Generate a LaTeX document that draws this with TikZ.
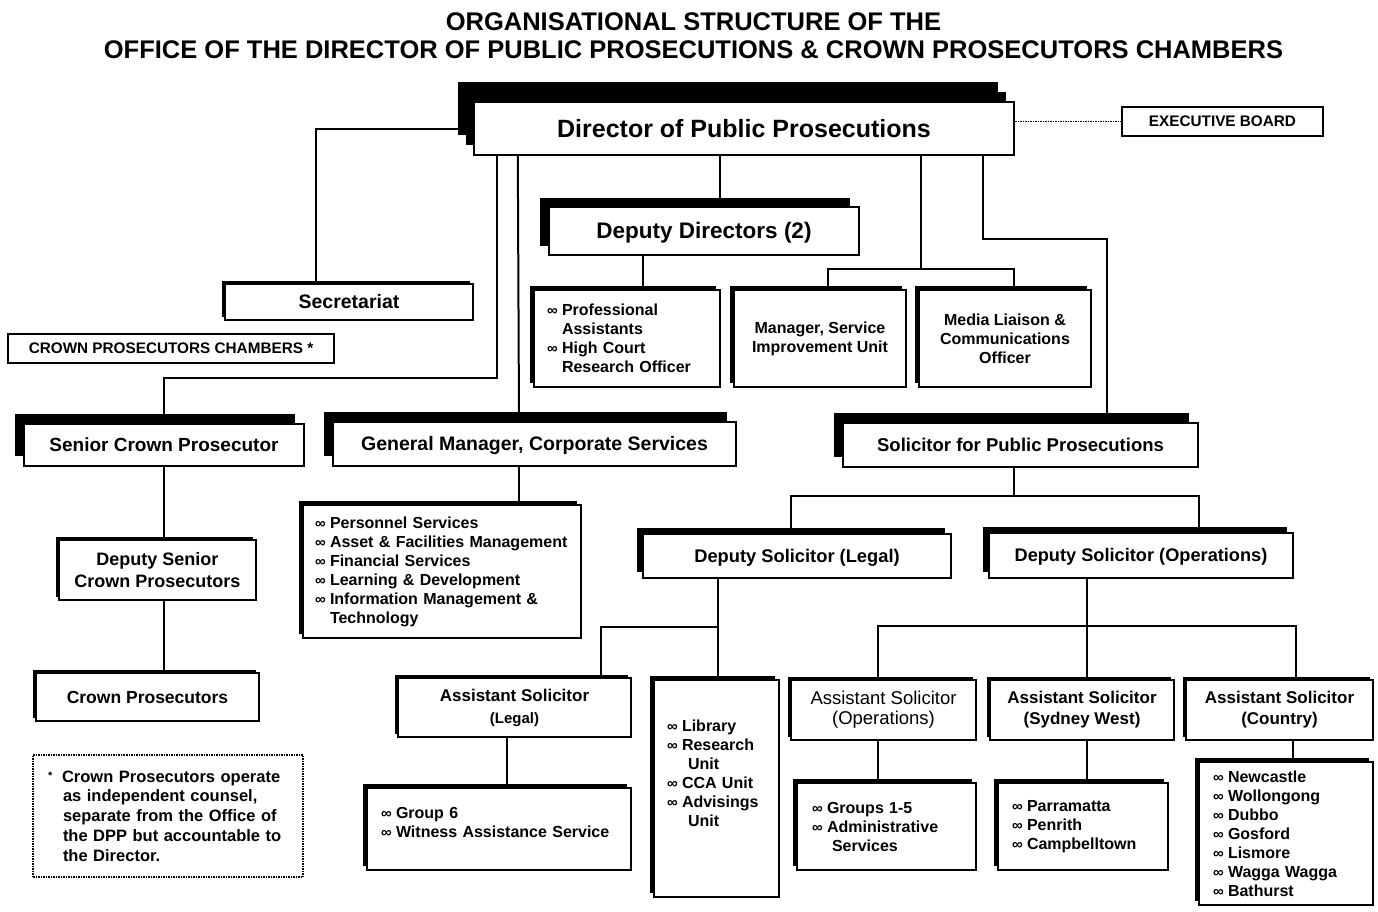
\documentclass[tikz,border=0pt]{standalone}
\usepackage{fontspec}
\setmainfont{Liberation Sans}
\usetikzlibrary{shadows}

\newcommand{\blt}[1]{\mbox{\makebox[15pt][l]{\fontsize{15}{15}\selectfont ∞}#1}}
\newcommand{\bltcont}[1]{\mbox{\hspace{15pt}#1}}

\begin{document}
\begin{tikzpicture}[x=1pt, y=-1pt,
    orgbox/.style={draw, line width=2.4pt, fill=white, inner sep=0pt, align=center},
    backshadow/.style 2 args={drop shadow={shadow xshift=-#1, shadow yshift=#2, fill=black, opacity=1}},
    oneline/.style={text height=#1, text depth=0.6pt},
    headtext/.style={font=\fontsize{18.5}{22}\selectfont\bfseries},
    smalltext/.style={font=\fontsize{16}{19}\selectfont\bfseries},
    listbox/.style={orgbox, smalltext, align=left, inner xsep=13pt},
    capsbox/.style={draw, line width=2pt, fill=white, inner sep=0pt, oneline=11pt, font=\fontsize{15.3}{18}\selectfont\bfseries},
    conn/.style={line width=2pt}]

    % Fix the size of the whole chart
    \useasboundingbox (0,0) rectangle (1378,911);

    % Title
    \node[font=\fontsize{25.5}{28}\selectfont\bfseries, align=center] (title) at (693.5,36)
        {ORGANISATIONAL STRUCTURE OF THE\\OFFICE OF THE DIRECTOR OF PUBLIC PROSECUTIONS \& CROWN PROSECUTORS CHAMBERS};

    % Top level
    \node[orgbox, backshadow={16pt}{20pt}, backshadow={8pt}{10pt}, minimum width=540pt, minimum height=53pt,
          oneline=18pt, font=\fontsize{25}{30}\selectfont\bfseries] (dpp) at (744,128.5) {Director of Public Prosecutions};
    \node[capsbox, minimum width=201pt, minimum height=29pt] (exec) at (1222.5,121.5) {EXECUTIVE BOARD};
    \node[orgbox, backshadow={9pt}{9pt}, minimum width=310pt, minimum height=48pt,
          oneline=16pt, font=\fontsize{22.5}{26}\selectfont\bfseries] (dd) at (704,231) {Deputy Directors (2)};
    \node[orgbox, backshadow={3pt}{3pt}, oneline=14pt, font=\fontsize{19.5}{22}\selectfont\bfseries,
          minimum width=248pt, minimum height=36pt] (secr) at (349,302) {Secretariat};
    \node[capsbox, minimum width=326pt, minimum height=29pt] (cpc) at (171,348.5) {CROWN PROSECUTORS CHAMBERS *};

    % Units under the Deputy Directors and the Director
    \node[listbox, backshadow={4pt}{4pt}, text width=160pt, minimum width=186pt, minimum height=97pt] (prof) at (627,338.5)
        {\blt{Professional}\\ \bltcont{Assistants}\\ \blt{High Court}\\ \bltcont{Research Officer}};
    \node[orgbox, smalltext, backshadow={4pt}{4pt}, minimum width=172pt, minimum height=97pt] (msi) at (820,338.5)
        {Manager, Service\\Improvement Unit};
    \node[orgbox, smalltext, backshadow={4pt}{4pt}, minimum width=172pt, minimum height=97pt] (media) at (1005,338.5)
        {Media Liaison \&\\Communications\\Officer};

    % Second row
    \node[orgbox, backshadow={9pt}{10pt}, oneline=13.6pt, font=\fontsize{19}{22}\selectfont\bfseries,
          minimum width=280pt, minimum height=42pt] (scp) at (164,445) {Senior Crown Prosecutor};
    \node[orgbox, backshadow={9pt}{10pt}, oneline=14pt, font=\fontsize{19.5}{22}\selectfont\bfseries,
          minimum width=403pt, minimum height=44pt] (gm) at (534.5,444) {General Manager, Corporate Services};
    \node[orgbox, headtext, backshadow={9pt}{10pt}, oneline=13.3pt, minimum width=355pt, minimum height=44pt] (spp) at (1020.5,445)
        {Solicitor for Public Prosecutions};

    % Crown Prosecutors chambers
    \node[orgbox, backshadow={3pt}{3pt}, font=\fontsize{18}{22}\selectfont\bfseries,
          minimum width=197pt, minimum height=60pt] (dscp) at (157.5,570) {Deputy Senior\\Crown Prosecutors};
    \node[orgbox, backshadow={3pt}{3pt}, oneline=12.6pt, font=\fontsize{17.5}{22}\selectfont\bfseries,
          minimum width=223pt, minimum height=48pt] (cp) at (147.5,697) {Crown Prosecutors};
    \node[draw, densely dotted, line width=1.5pt, fill=white, inner xsep=15pt, inner ysep=0pt, align=left,
          text width=240pt, minimum width=270pt, minimum height=122pt,
          font=\fontsize{16.5}{19.7}\selectfont\bfseries] (note) at (168,816)
        {\mbox{\makebox[14pt][l]{\raisebox{3pt}{\fontsize{11}{11}\selectfont *}}Crown Prosecutors operate}\\
         \bltcont{as independent counsel,}\\ \bltcont{separate from the Office of}\\
         \bltcont{the DPP but accountable to}\\ \bltcont{the Director.}};

    % Corporate services
    \node[listbox, backshadow={4pt}{4pt}, inner xsep=12pt, text width=254pt, minimum width=278pt, minimum height=133pt]
        (corp) at (442,571.5)
        {\blt{Personnel Services}\\ \blt{Asset \& Facilities Management}\\ \blt{Financial Services}\\
         \blt{Learning \& Development}\\ \blt{Information Management \&}\\ \bltcont{Technology}};

    % Solicitor's office
    \node[orgbox, backshadow={6pt}{6pt}, oneline=13.2pt, font=\fontsize{18.3}{22}\selectfont\bfseries,
          minimum width=308pt, minimum height=44pt] (dsl) at (797,556) {Deputy Solicitor (Legal)};
    \node[orgbox, backshadow={6pt}{6pt}, oneline=13.2pt, font=\fontsize{18.2}{22}\selectfont\bfseries,
          minimum width=304pt, minimum height=45pt] (dso) at (1141,555.5) {Deputy Solicitor (Operations)};

    \node[orgbox, backshadow={3pt}{3pt}, font=\fontsize{17}{22}\selectfont\bfseries,
          minimum width=233pt, minimum height=59pt] (asl) at (514.5,707.5)
        {Assistant Solicitor\\{\fontsize{15}{18}\selectfont (Legal)}};
    \node[listbox, backshadow={4pt}{4pt}, text width=99pt, minimum width=125pt, minimum height=217pt] (lib) at (716.5,788.5)
        {\blt{Library}\\ \blt{Research}\\ \bltcont{\hspace{6pt}Unit}\\ \blt{CCA Unit}\\ \blt{Advisings}\\
         \bltcont{\hspace{6pt}Unit}\\[12pt]\mbox{}};
    \node[orgbox, backshadow={3pt}{3pt}, font=\fontsize{18.5}{20}\selectfont,
          minimum width=185pt, minimum height=60pt] (asop) at (883.5,710) {Assistant Solicitor\\(Operations)};
    \node[orgbox, backshadow={3pt}{3pt}, font=\fontsize{17}{21}\selectfont\bfseries,
          minimum width=184pt, minimum height=60pt] (asw) at (1082,710) {Assistant Solicitor\\(Sydney West)};
    \node[orgbox, backshadow={3pt}{3pt}, font=\fontsize{17}{21}\selectfont\bfseries,
          minimum width=187pt, minimum height=60pt] (asc) at (1279.5,710) {Assistant Solicitor\\(Country)};

    % Bottom row of units
    \node[listbox, backshadow={4pt}{4pt}, inner xsep=14pt, text width=236pt, minimum width=264pt, minimum height=82pt]
        (grp6) at (499,829) {\blt{Group 6}\\ \blt{Witness Assistance Service}\\[-6pt]\mbox{}};
    \node[listbox, backshadow={4pt}{4pt}, inner xsep=15pt, text width=149pt, minimum width=179pt, minimum height=87pt]
        (groups) at (886.5,826.5) {\blt{Groups 1-5}\\ \blt{Administrative}\\ \bltcont{\hspace{5pt}Services}};
    \node[listbox, backshadow={4pt}{4pt}, inner xsep=14pt, text width=142pt, minimum width=170pt, minimum height=87pt]
        (parr) at (1083,826.5) {\blt{Parramatta}\\ \blt{Penrith}\\ \blt{Campbelltown}};
    \node[listbox, backshadow={4pt}{4pt}, inner xsep=14pt, text width=146pt, minimum width=174pt, minimum height=143pt]
        (country) at (1286,833.5)
        {\blt{Newcastle}\\ \blt{Wollongong}\\ \blt{Dubbo}\\ \blt{Gosford}\\ \blt{Lismore}\\ \blt{Wagga Wagga}\\ \blt{Bathurst}};

    % Branch points of the connectors
    \coordinate (cfork) at (497,378);
    \coordinate (mfork) at (921,269);
    \coordinate (sfork) at (983,239);
    \coordinate (dfork) at (1014,496);
    \coordinate (lfork) at (718,627);
    \coordinate (ofork) at (1087,626);

    % Connectors
    \draw[densely dotted, line width=1.5pt] (exec.west -| dpp.east) -- (exec.west);
    \draw[conn] (dpp.west) -| ([xshift=-33pt]secr.north);
    \draw[conn] (dpp.south -| cfork) -- (cfork) -| (scp.north);
    \draw[conn] ([xshift=45pt]dpp.south west) -- ([xshift=-15.5pt]gm.north);
    \draw[conn] ([xshift=-24pt]dpp.south) -- ([xshift=16pt]dd.north);
    \draw[conn] (dpp.south -| mfork) -- (mfork);
    \draw[conn] ([xshift=8pt]msi.north) |- (mfork) -| ([xshift=9pt]media.north);
    \draw[conn] (dpp.south -| sfork) -- (sfork) -| ([xshift=86.5pt]spp.north);
    \draw[conn] ([xshift=-61pt]dd.south) -- ([xshift=16pt]prof.north);
    \draw[conn] (scp.south) -- ([xshift=6.5pt]dscp.north);
    \draw[conn] ([xshift=6.5pt]dscp.south) -- ([xshift=16.5pt]cp.north);
    \draw[conn] ([xshift=-15.5pt]gm.south) -- ([xshift=77pt]corp.north);
    \draw[conn] (spp.south -| dfork) -- (dfork);
    \draw[conn] ([xshift=-6pt]dsl.north) |- (dfork) -| ([xshift=58pt]dso.north);
    \draw[conn] (dsl.south -| lfork) -- ([xshift=1.5pt]lib.north);
    \draw[conn] (lfork) -| ([xshift=86.5pt]asl.north);
    \draw[conn] (dso.south -| ofork) -- ([xshift=5pt]asw.north);
    \draw[conn] ([xshift=-5.5pt]asop.north) |- (ofork) -| ([xshift=16.5pt]asc.north);
    \draw[conn] ([xshift=-7.5pt]asl.south) -- ([xshift=8pt]grp6.north);
    \draw[conn] ([xshift=-5.5pt]asop.south) -- ([xshift=-8.5pt]groups.north);
    \draw[conn] ([xshift=5pt]asw.south) -- ([xshift=4pt]parr.north);
    \draw[conn] ([xshift=13.5pt]asc.south) -- ([xshift=7pt]country.north);
\end{tikzpicture}
\end{document}
